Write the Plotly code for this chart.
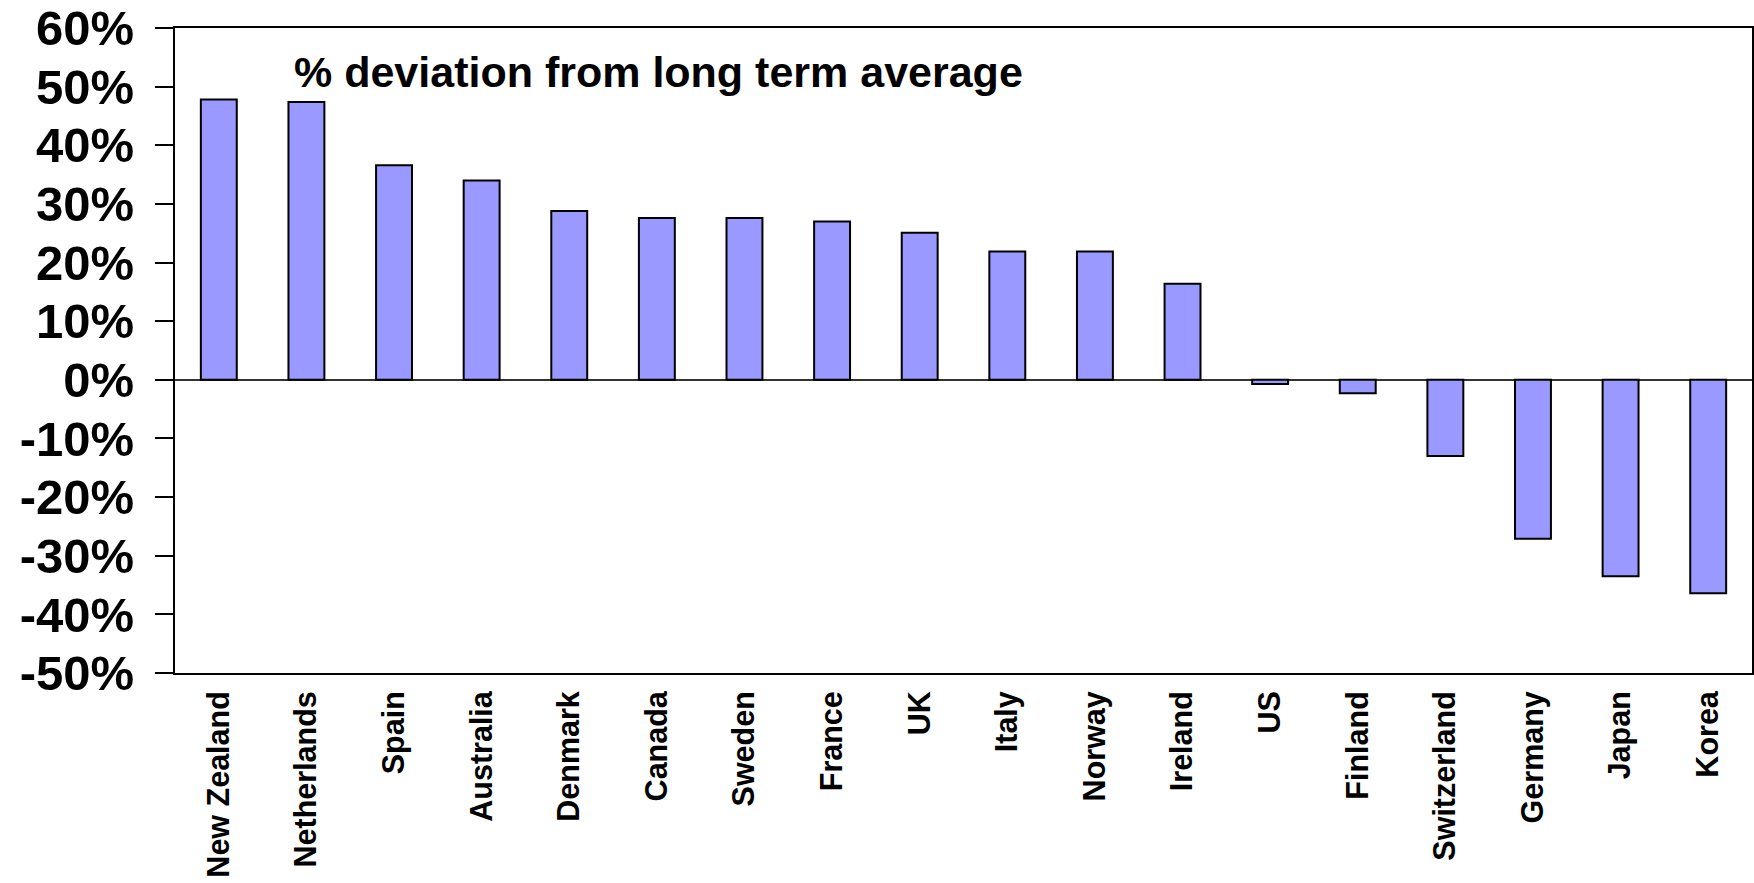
import plotly.graph_objects as go

# Countries ordered from most over- to most under-valued
countries = [
    "New Zealand", "Netherlands", "Spain", "Australia", "Denmark", "Canada",
    "Sweden", "France", "UK", "Italy", "Norway", "Ireland", "US", "Finland",
    "Switzerland", "Germany", "Japan", "Korea",
]

# Deviation from long term average (fraction)
deviation = [
    0.478, 0.474, 0.366, 0.340, 0.288, 0.276,
    0.276, 0.270, 0.251, 0.219, 0.219, 0.164, -0.007, -0.023,
    -0.130, -0.271, -0.335, -0.364,
]

# Y axis ticks
y_ticks = [0.6, 0.5, 0.4, 0.3, 0.2, 0.1, 0.0, -0.1, -0.2, -0.3, -0.4, -0.5]
y_tick_labels = ["60%", "50%", "40%", "30%", "20%", "10%", "0%",
                 "-10%", "-20%", "-30%", "-40%", "-50%"]

title_text = "% deviation from long term average"

FONT = "Liberation Sans, Arial, sans-serif"

fig = go.Figure(
    go.Bar(
        x=countries,
        y=deviation,
        marker=dict(color="#9999FF", line=dict(color="#000000", width=2)),
        width=0.41,
        hoverinfo="x+y",
    )
)

fig.update_layout(
    width=1754,
    height=883,
    margin=dict(l=175, r=2, t=28, b=210),
    paper_bgcolor="#FFFFFF",
    plot_bgcolor="#FFFFFF",
    showlegend=False,
    font=dict(family=FONT, color="#000000"),
)

fig.update_yaxes(
    range=[-0.5, 0.6],
    tickvals=y_ticks,
    ticktext=y_tick_labels,
    tickfont=dict(family=FONT, size=49, color="#000000", weight="bold"),
    ticks="outside",
    ticklen=18,
    tickwidth=2,
    tickcolor="#000000",
    ticklabelstandoff=11,
    automargin=False,
    showgrid=False,
    showline=True,
    linecolor="#000000",
    linewidth=2,
    mirror=True,
    zeroline=True,
    zerolinecolor="#333333",
    zerolinewidth=1.5,
)

fig.update_xaxes(
    tickangle=-90,
    tickfont=dict(family=FONT, size=30.5, color="#000000", weight="bold"),
    ticks="",
    ticklabelstandoff=4,
    automargin=False,
    showgrid=False,
    showline=True,
    linecolor="#000000",
    linewidth=2,
    mirror=True,
)

fig.add_annotation(
    text=title_text,
    xref="paper",
    yref="paper",
    x=(292 - 175) / 1577,
    y=1 - (72 - 28) / 645,
    xanchor="left",
    yanchor="middle",
    showarrow=False,
    font=dict(family=FONT, size=43, color="#000000", weight="bold"),
)

fig.write_html("out.html")
